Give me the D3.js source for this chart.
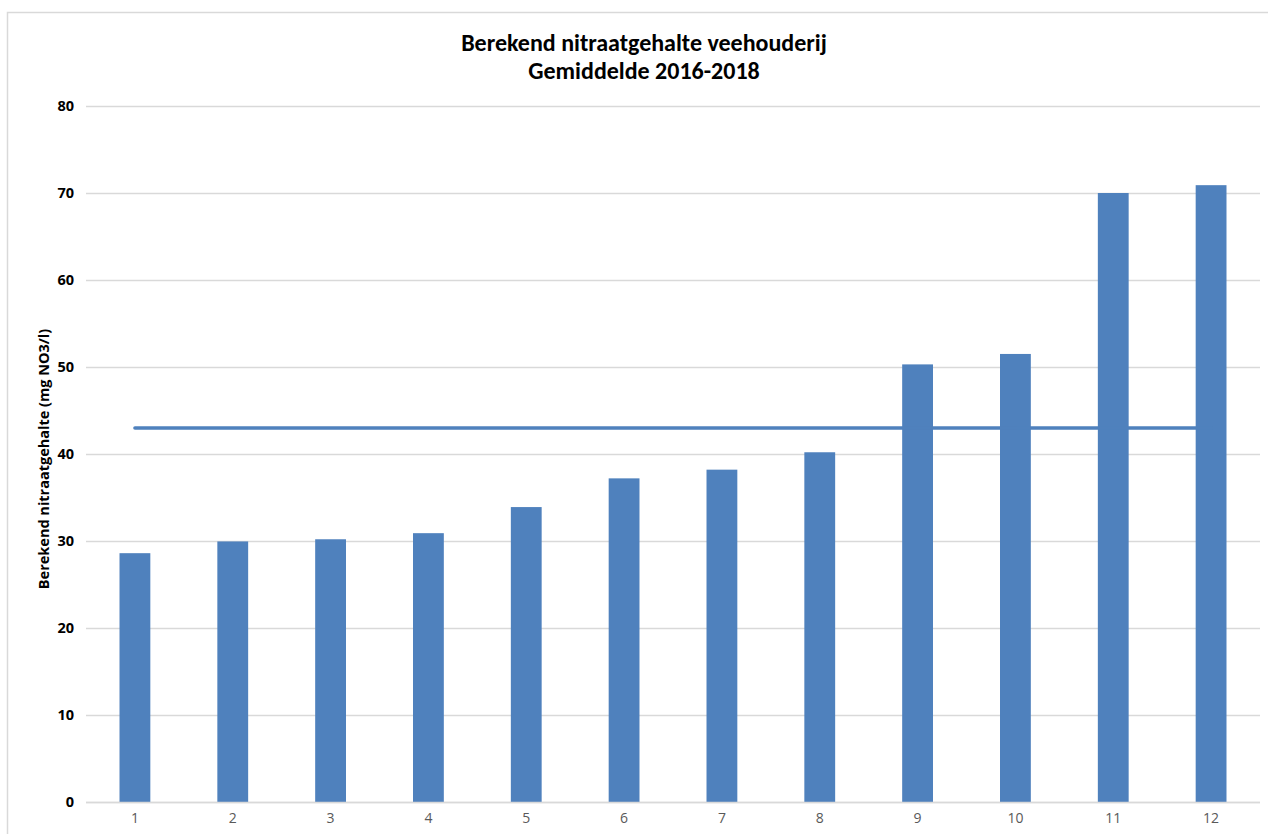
<!DOCTYPE html>
<html>
<head>
<meta charset="utf-8">
<script src="https://cdn.jsdelivr.net/npm/d3@7"></script>
<style>
  html, body { margin: 0; padding: 0; background: #fff; }
  svg { display: block; }
  .title { font-family: Carlito, "Liberation Sans Narrow", "Open Sans", sans-serif; font-weight: bold; font-size: 24px; fill: #000; }
  .ytick text { font-family: "Open Sans", "Liberation Sans", sans-serif; font-weight: bold; font-size: 14.5px; fill: #000; }
  .xtick text { font-family: "Open Sans", "Liberation Sans", sans-serif; font-size: 14px; fill: #595959; }
  .ytitle { font-family: "Open Sans", "Liberation Sans", sans-serif; font-weight: bold; font-size: 14.5px; fill: #000; }
</style>
</head>
<body>
<script>
// Berekend nitraatgehalte per categorie (mg NO3/l)
const categories = ["1", "2", "3", "4", "5", "6", "7", "8", "9", "10", "11", "12"];
const nitraat = [28.6, 29.95, 30.2, 30.9, 33.9, 37.2, 38.2, 40.2, 50.3, 51.5, 70.0, 70.9];
const gemiddelde = [43, 43, 43, 43, 43, 43, 43, 43, 43, 43, 43, 43];
const yTicks = [0, 10, 20, 30, 40, 50, 60, 70, 80];
const titleLines = ["Berekend nitraatgehalte veehouderij", "Gemiddelde 2016-2018"];
const yAxisTitle = "Berekend nitraatgehalte  (mg NO3/l)";

const W = 1268, H = 834;
const plot = { left: 86, right: 1260, top: 106, bottom: 802 };

const svg = d3.select("body").append("svg").attr("width", W).attr("height", H);

// chart frame
svg.append("rect")
  .attr("x", 7.5).attr("y", 12.5)
  .attr("width", W).attr("height", H)
  .attr("fill", "#fff").attr("stroke", "#d9d9d9").attr("stroke-width", 1.5);

const x = d3.scaleBand().domain(categories).range([plot.left, plot.right]).paddingInner(0.685).paddingOuter(0.3425);
const y = d3.scaleLinear().domain([0, 80]).range([plot.bottom, plot.top]);

// title
svg.selectAll("text.title").data(titleLines).join("text")
  .attr("class", "title")
  .attr("x", 644).attr("y", (d, i) => 51 + i * 28)
  .attr("text-anchor", "middle")
  .text(d => d);

// gridlines + y labels
const yAxis = d3.axisLeft(y).tickValues(yTicks).tickSize(-(plot.right - plot.left)).tickPadding(12);
const gy = svg.append("g").attr("class", "ytick").attr("transform", `translate(${plot.left},0)`).call(yAxis);
gy.select(".domain").remove();
gy.selectAll(".tick line").attr("stroke", "#d9d9d9").attr("stroke-width", 1.3);

// bars
svg.append("g").selectAll("rect").data(nitraat).join("rect")
  .attr("x", (d, i) => x(categories[i]))
  .attr("y", d => y(d))
  .attr("width", x.bandwidth())
  .attr("height", d => y(0) - y(d))
  .attr("fill", "#4f81bd");

// average line
const line = d3.line()
  .x((d, i) => x(categories[i]) + x.bandwidth() / 2)
  .y(d => y(d));
svg.append("path").datum(gemiddelde)
  .attr("d", line)
  .attr("fill", "none")
  .attr("stroke", "#4f81bd")
  .attr("stroke-width", 3.5)
  .attr("stroke-linecap", "round");

// x axis baseline and labels
const xAxis = d3.axisBottom(x).tickSize(0).tickPadding(11);
const gx = svg.append("g").attr("class", "xtick").attr("transform", `translate(0,${plot.bottom})`).call(xAxis);
gx.select(".domain").remove();
svg.append("line")
  .attr("x1", plot.left).attr("x2", plot.right)
  .attr("y1", plot.bottom + 0.5).attr("y2", plot.bottom + 0.5)
  .attr("stroke", "#d9d9d9").attr("stroke-width", 1.3);

// y axis title
svg.append("text")
  .attr("class", "ytitle")
  .attr("transform", `translate(49,${(plot.top + plot.bottom) / 2 + 5}) rotate(-90)`)
  .attr("text-anchor", "middle")
  .text(yAxisTitle);
</script>
</body>
</html>
